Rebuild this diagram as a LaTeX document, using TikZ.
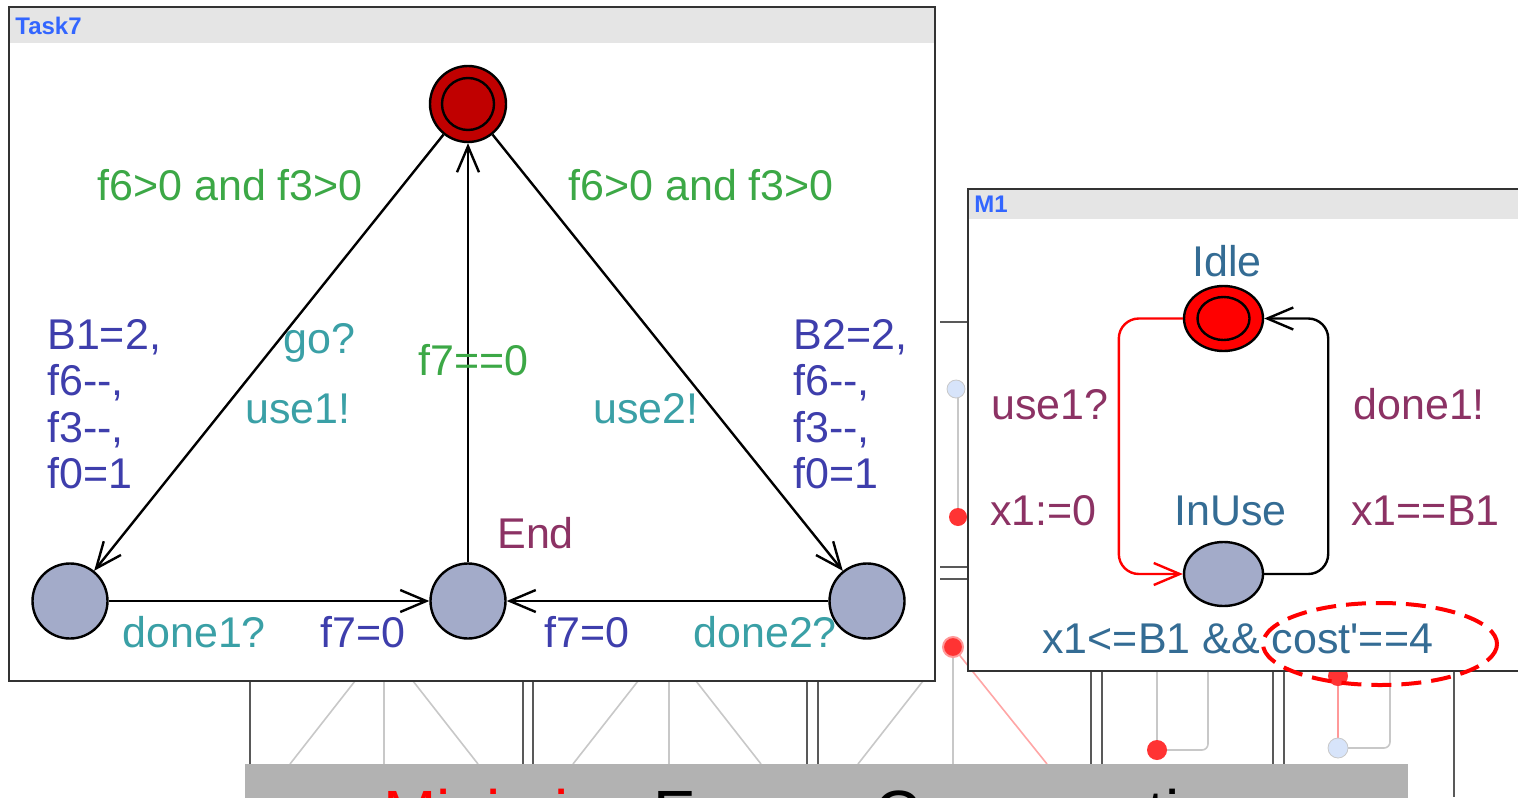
\documentclass[tikz,border=0pt]{standalone}
\usepackage{fontspec}
\setmainfont{Liberation Sans}
\usetikzlibrary{arrows.meta,shapes.geometric}

\definecolor{guardgreen}{RGB}{60,168,70}
\definecolor{updblue}{RGB}{62,62,172}
\definecolor{syncteal}{RGB}{58,160,166}
\definecolor{namemaroon}{RGB}{140,50,100}
\definecolor{steelname}{RGB}{52,108,148}
\definecolor{titleblue}{RGB}{51,102,255}
\definecolor{locblue}{RGB}{163,171,201}
\definecolor{initred}{RGB}{192,0,0}
\definecolor{idlered}{RGB}{255,0,0}
\definecolor{titlegray}{RGB}{229,229,229}
\definecolor{bannergray}{RGB}{178,178,178}
\definecolor{faintgray}{RGB}{200,200,200}
\definecolor{faintblue}{RGB}{215,228,250}

\begin{document}
\begin{tikzpicture}[
  x=0.5pt, y=-0.5pt,
  frame/.style={draw=black!80, line width=1pt},
  bgframe/.style={draw=black!65, line width=1pt},
  bgfaint/.style={draw=faintgray, line width=0.8pt},
  title/.style={inner sep=0pt, anchor=base west, text=titleblue,
                font=\bfseries\fontsize{12}{14}\selectfont},
  lbl/.style={inner sep=0pt, font=\fontsize{21.5}{23.15}\selectfont},
  guard/.style={lbl, anchor=base west, text=guardgreen},
  sync/.style={lbl, anchor=base west, text=syncteal},
  upd/.style={lbl, anchor=base west, text=updblue},
  updblock/.style={lbl, anchor=north west, align=left, text=updblue},
  locname/.style={lbl, anchor=base west, text=namemaroon},
  mlbl/.style={lbl, anchor=base west, text=namemaroon},
  mname/.style={lbl, anchor=base west, text=steelname},
  loc/.style={circle, draw=black, line width=1.2pt, fill=locblue,
              minimum size=37.5pt, inner sep=0pt},
  initloc/.style={loc, fill=initred, minimum size=38pt},
  mloc/.style={ellipse, draw=black, line width=1.2pt, fill=locblue,
               minimum width=39.5pt, minimum height=32pt, inner sep=0pt},
  idleloc/.style={mloc, fill=idlered, minimum height=32.5pt},
  edge/.style={line width=1.2pt, -{Straight Barb[length=13pt, width=11pt]}},
  redge/.style={edge, draw=idlered, rounded corners=10pt},
  bedge/.style={edge, rounded corners=10pt}
]
\useasboundingbox (0,0) rectangle (1518,797);
\fill[white] (0,0) rectangle (1518,797);

% faded panels behind
\foreach \x in {250,523,533,807,818,1091,1102,1273,1284}
  \draw[bgframe] (\x,660) -- (\x,764);
\draw[bgframe] (1454,660) -- (1454,797);
\foreach \x in {384,669}
  \draw[bgfaint] (\x,660) -- (\x,764);
\draw[bgfaint] (953,655) -- (953,764);
\foreach \o in {0,283,568}
  \draw[bgfaint] (290+\o,764) -- (355+\o,681);
\foreach \o in {0,283}
  \draw[bgfaint] (413+\o,681) -- (478+\o,764);
\draw[red!35, line width=0.8pt] (953,647) -- (1047,764);
\draw[bgframe] (940,322) -- (968,322);
\draw[bgframe] (940,567) -- (968,567);
\draw[bgframe] (940,579) -- (968,579);
\draw[bgfaint] (958,389) -- (958,517);
\filldraw[fill=faintblue, draw=faintgray] (956,389) circle[radius=9];
\fill[red!80] (958,517) circle[radius=9];
\filldraw[fill=red!80, draw=red!40, line width=1pt] (953,647) circle[radius=10];
\draw[bgfaint, rounded corners=3pt] (1157,750) -- (1208,750) -- (1208,672);
\draw[bgfaint] (1157,672) -- (1157,750);
\fill[red!80] (1157,750) circle[radius=10];
\draw[bgfaint, rounded corners=3pt] (1338,748) -- (1390,748) -- (1390,672);
\draw[red!40, line width=0.8pt] (1338,676) -- (1338,748);
\fill[red!80] (1338,676) circle[radius=10];
\filldraw[fill=faintblue, draw=faintgray] (1338,748) circle[radius=10];

% Task7
\draw[frame, fill=white] (9,7) rectangle (935,681);
\fill[titlegray] (10,8) rectangle (934,43);
\node[title] (t7name) at (15,35) {Task7};

\node[initloc] (start) at (468,104) {};
\draw[line width=1.2pt] (start.center) circle[radius=26];
\node[loc] (run1) at (70,601) {};
\node[loc] (endloc) at (468,601) {};
\node[loc] (run2) at (867,601) {};

\draw[edge] (start) -- (run1);
\draw[edge] (endloc) -- (start);
\draw[edge] (start) -- (run2);
\draw[edge] (run1) -- (endloc);
\draw[edge] (run2) -- (endloc);

\node[guard] (g1) at (97,200) {f6>0 and f3>0};
\node[guard] (g2) at (568,200) {f6>0 and f3>0};
\node[updblock] (u1) at (47,319) {B1=2,\\f6-{}-,\\f3-{}-,\\f0=1};
\node[updblock] (u2) at (793,319) {B2=2,\\f6-{}-,\\f3-{}-,\\f0=1};
\node[sync] (s1) at (283,353) {go?};
\node[sync] (s2) at (245,423) {use1!};
\node[guard] (g3) at (418,375) {f7==0};
\node[sync] (s3) at (593,423) {use2!};
\node[locname] (endname) at (497,548) {End};
\node[sync] (s4) at (122,647) {done1?};
\node[upd] (u3) at (320,647) {f7=0};
\node[upd] (u4) at (544,647) {f7=0};
\node[sync] (s5) at (693,647) {done2?};

% M1
\draw[frame, fill=white] (968,189) rectangle (1540,671);
\fill[titlegray] (969,190) rectangle (1540,219);
\node[title] (m1name) at (974,212) {M1};

\node[idleloc] (idle) at (1223.5,318.5) {};
\draw[line width=1.2pt] (idle.center) ellipse[x radius=26, y radius=21.5];
\node[mloc] (inuse) at (1223.5,574) {};

\draw[redge] (idle.west) -- ++(-64,0) |- (inuse.west);
\draw[bedge] (inuse.east) -- ++(64,0) |- (idle.east);

\node[mname] (idlename) at (1192,276) {Idle};
\node[mname] (inusename) at (1174,525) {InUse};
\node[mlbl] (m1) at (991,419) {use1?};
\node[mlbl] (m2) at (990,525) {x1:=0};
\node[mlbl] (m3) at (1353,419) {done1!};
\node[mlbl] (m4) at (1351,525) {x1==B1};
\node[mname] (inv) at (1042,653) {x1<=B1 \&\& cost\textquotesingle==4};

\draw[idlered, line width=2pt, dash pattern=on 10pt off 5pt]
  (1380,644) ellipse[x radius=117, y radius=41];

% banner
\fill[bannergray] (245,764) rectangle (1408,800);
\begin{scope}
  \clip (245,764) rectangle (1408,797);
  \node[inner sep=0pt, anchor=base west, font=\fontsize{32}{34}\selectfont]
    (goal) at (383,835) {\textcolor{red}{Minimize} Energy Consumption};
\end{scope}
\end{tikzpicture}
\end{document}
